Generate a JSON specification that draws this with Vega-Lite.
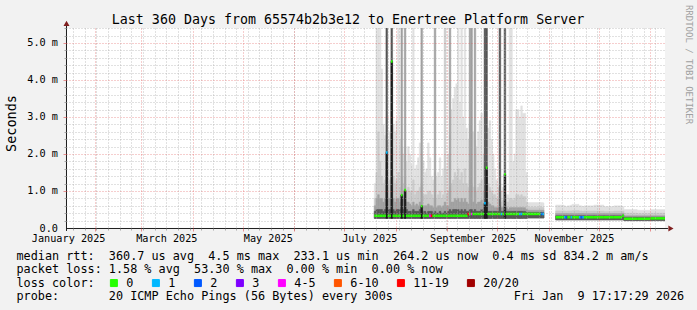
{
  "$schema": "https://vega.github.io/schema/vega-lite/v6.json",
  "width": 599,
  "height": 200,
  "autosize": {"type": "none"},
  "padding": {"left": 66, "top": 28, "right": 32, "bottom": 82},
  "background": "#f2f2f2",
  "config": {
    "view": {"fill": "#ffffff", "stroke": null},
    "font": "DejaVu Sans Mono",
    "axis": {"zindex": 1}
  },
  "title": {
    "text": "Last 360 Days from 65574b2b3e12 to Enertree Platform Server",
    "font": "DejaVu Sans Mono",
    "fontSize": 13.3,
    "fontWeight": "normal",
    "color": "#000000",
    "anchor": "middle",
    "frame": "group",
    "dx": -17.5,
    "baseline": "alphabetic",
    "offset": -32
  },
  "datasets": {
    "smoke": [
      {"t":"2025-07-19","t2":"2025-07-20","lo":0.26,"a":1.2,"b":0.8,"c":0.6,"d":0.45,"m":0.33,"l":"0"},
      {"t":"2025-07-20","t2":"2025-07-21","lo":0.26,"a":6,"b":1.5,"c":0.8,"d":0.5,"m":0.33,"l":"0"},
      {"t":"2025-07-21","t2":"2025-07-22","lo":0.26,"a":6,"b":2.6,"c":0.9,"d":0.5,"m":0.33,"l":"0"},
      {"t":"2025-07-22","t2":"2025-07-23","lo":0.26,"a":6,"b":1.8,"c":0.8,"d":0.5,"m":0.33,"l":"0"},
      {"t":"2025-07-23","t2":"2025-07-24","lo":0.26,"a":4.3,"b":1.4,"c":0.8,"d":0.5,"m":0.33,"l":"0"},
      {"t":"2025-07-24","t2":"2025-07-25","lo":0.26,"a":2.8,"b":1.2,"c":0.7,"d":0.45,"m":0.33,"l":"0"},
      {"t":"2025-07-25","t2":"2025-07-26","lo":0.26,"a":2.5,"b":1.3,"c":0.8,"d":0.5,"m":0.33,"l":"0"},
      {"t":"2025-07-26","t2":"2025-07-27","lo":0.26,"a":3.0,"b":1.5,"c":1.0,"d":6,"e":2.04,"m":2.04,"l":"1"},
      {"t":"2025-07-27","t2":"2025-07-28","lo":0.26,"a":2.4,"b":1.2,"c":0.8,"d":0.5,"m":0.33,"l":"0"},
      {"t":"2025-07-28","t2":"2025-07-29","lo":0.26,"a":2.6,"b":1.3,"c":0.8,"d":0.5,"m":0.33,"l":"0"},
      {"t":"2025-07-29","t2":"2025-07-30","lo":0.26,"a":3.2,"b":1.8,"c":1.2,"d":6,"e":4.5,"m":4.5,"l":"0"},
      {"t":"2025-07-30","t2":"2025-07-31","lo":0.26,"a":2.8,"b":1.4,"c":0.8,"d":0.5,"m":0.33,"l":"0"},
      {"t":"2025-07-31","t2":"2025-08-01","lo":0.26,"a":2.6,"b":1.2,"c":0.7,"d":0.45,"m":0.33,"l":"0"},
      {"t":"2025-08-01","t2":"2025-08-02","lo":0.26,"a":2.9,"b":1.3,"c":0.8,"d":0.5,"m":0.33,"l":"0"},
      {"t":"2025-08-02","t2":"2025-08-03","lo":0.26,"a":6,"b":1.5,"c":0.8,"d":0.5,"m":0.33,"l":"0"},
      {"t":"2025-08-03","t2":"2025-08-04","lo":0.26,"a":2.4,"b":1.1,"c":0.7,"d":0.5,"m":0.33,"l":"0"},
      {"t":"2025-08-04","t2":"2025-08-05","lo":0.26,"a":2.2,"b":1.4,"c":6,"d":0.9,"e":0.89,"m":0.89,"l":"0"},
      {"t":"2025-08-05","t2":"2025-08-06","lo":0.26,"a":2.0,"b":1.2,"c":0.8,"d":0.5,"m":0.33,"l":"0"},
      {"t":"2025-08-06","t2":"2025-08-07","lo":0.26,"a":2.2,"b":1.4,"c":6,"d":1.0,"e":1.03,"m":1.03,"l":"0"},
      {"t":"2025-08-07","t2":"2025-08-08","lo":0.26,"a":1.8,"b":1.0,"c":0.7,"d":0.5,"m":0.33,"l":"0"},
      {"t":"2025-08-08","t2":"2025-08-09","lo":0.26,"a":2.2,"b":1.1,"c":0.7,"d":0.45,"m":0.33,"l":"0"},
      {"t":"2025-08-09","t2":"2025-08-10","lo":0.26,"a":2.0,"b":1.0,"c":0.65,"d":0.45,"m":0.33,"l":"0"},
      {"t":"2025-08-10","t2":"2025-08-11","lo":0.26,"a":1.7,"b":1.0,"c":0.6,"d":0.45,"m":0.33,"l":"0"},
      {"t":"2025-08-11","t2":"2025-08-12","lo":0.26,"a":6,"b":1.3,"c":0.7,"d":0.5,"m":0.33,"l":"0"},
      {"t":"2025-08-12","t2":"2025-08-13","lo":0.26,"a":1.6,"b":0.9,"c":0.6,"d":0.45,"m":0.33,"l":"0"},
      {"t":"2025-08-13","t2":"2025-08-14","lo":0.26,"a":1.7,"b":1.0,"c":0.65,"d":0.45,"m":0.33,"l":"0"},
      {"t":"2025-08-14","t2":"2025-08-15","lo":0.26,"a":1.9,"b":1.0,"c":0.6,"d":0.45,"m":0.33,"l":"0"},
      {"t":"2025-08-15","t2":"2025-08-16","lo":0.26,"a":2.3,"b":1.1,"c":0.7,"d":0.5,"m":0.33,"l":"0"},
      {"t":"2025-08-16","t2":"2025-08-17","lo":0.26,"a":2.0,"b":1.2,"c":6,"d":0.6,"e":0.59,"m":0.59,"l":"0"},
      {"t":"2025-08-17","t2":"2025-08-18","lo":0.26,"a":1.8,"b":0.9,"c":0.6,"d":0.45,"m":0.33,"l":"0"},
      {"t":"2025-08-18","t2":"2025-08-19","lo":0.26,"a":1.5,"b":0.9,"c":0.6,"d":0.45,"m":0.33,"l":"0"},
      {"t":"2025-08-19","t2":"2025-08-20","lo":0.26,"a":1.6,"b":0.9,"c":0.6,"d":0.4,"m":0.33,"l":"0"},
      {"t":"2025-08-20","t2":"2025-08-21","lo":0.26,"a":2.3,"b":1.0,"c":0.65,"d":0.45,"m":0.33,"l":"0"},
      {"t":"2025-08-21","t2":"2025-08-22","lo":0.26,"a":1.9,"b":1.0,"c":0.6,"d":0.45,"m":0.33,"l":"4-5"},
      {"t":"2025-08-22","t2":"2025-08-23","lo":0.26,"a":1.4,"b":0.9,"c":0.6,"d":0.45,"m":0.33,"l":"11-19"},
      {"t":"2025-08-23","t2":"2025-08-24","lo":0.26,"a":1.3,"b":0.8,"c":0.55,"d":0.4,"m":0.33,"l":"0"},
      {"t":"2025-08-24","t2":"2025-08-25","lo":0.26,"a":1.5,"b":0.9,"c":6,"d":0.45,"m":0.33,"l":"0"},
      {"t":"2025-08-25","t2":"2025-08-26","lo":0.26,"a":1.4,"b":0.8,"c":0.55,"d":0.4,"m":0.33,"l":"0"},
      {"t":"2025-08-26","t2":"2025-08-27","lo":0.26,"a":1.5,"b":0.9,"c":0.6,"d":0.4,"m":0.33,"l":"0"},
      {"t":"2025-08-27","t2":"2025-08-28","lo":0.26,"a":1.9,"b":1.0,"c":0.6,"d":0.45,"m":0.33,"l":"0"},
      {"t":"2025-08-28","t2":"2025-08-29","lo":0.26,"a":1.4,"b":0.8,"c":0.55,"d":0.4,"m":0.33,"l":"0"},
      {"t":"2025-08-29","t2":"2025-08-30","lo":0.26,"a":1.6,"b":0.9,"c":0.6,"d":0.4,"m":0.33,"l":"0"},
      {"t":"2025-08-30","t2":"2025-08-31","lo":0.26,"a":2.0,"b":6,"c":0.7,"d":0.45,"m":0.33,"l":"0"},
      {"t":"2025-08-31","t2":"2025-09-01","lo":0.26,"a":1.6,"b":0.9,"c":0.6,"d":0.4,"m":0.33,"l":"0"},
      {"t":"2025-09-01","t2":"2025-09-02","lo":0.26,"a":2.0,"b":1.0,"c":0.6,"d":0.45,"m":0.33,"l":"0"},
      {"t":"2025-09-02","t2":"2025-09-03","lo":0.26,"a":2.5,"b":1.1,"c":6,"d":0.5,"m":0.33,"l":"0"},
      {"t":"2025-09-03","t2":"2025-09-04","lo":0.26,"a":3.2,"b":1.2,"c":0.7,"d":0.45,"m":0.33,"l":"0"},
      {"t":"2025-09-04","t2":"2025-09-05","lo":0.26,"a":3.5,"b":1.3,"c":0.7,"d":0.5,"m":0.33,"l":"0"},
      {"t":"2025-09-05","t2":"2025-09-06","lo":0.26,"a":3.8,"b":1.5,"c":0.8,"d":0.5,"m":0.33,"l":"0"},
      {"t":"2025-09-06","t2":"2025-09-07","lo":0.26,"a":3.9,"b":1.4,"c":0.75,"d":0.5,"m":0.33,"l":"0"},
      {"t":"2025-09-07","t2":"2025-09-08","lo":0.26,"a":6,"b":1.6,"c":0.8,"d":0.5,"m":0.33,"l":"0"},
      {"t":"2025-09-08","t2":"2025-09-09","lo":0.26,"a":3.4,"b":1.3,"c":0.7,"d":0.45,"m":0.33,"l":"0"},
      {"t":"2025-09-09","t2":"2025-09-10","lo":0.26,"a":6,"b":1.5,"c":0.8,"d":0.5,"m":0.33,"l":"0"},
      {"t":"2025-09-10","t2":"2025-09-11","lo":0.26,"a":3.0,"b":1.2,"c":0.7,"d":0.45,"m":0.33,"l":"0"},
      {"t":"2025-09-11","t2":"2025-09-12","lo":0.26,"a":6,"b":1.6,"c":0.8,"d":0.5,"m":0.33,"l":"0"},
      {"t":"2025-09-12","t2":"2025-09-13","lo":0.26,"a":2.7,"b":1.2,"c":0.7,"d":0.45,"m":0.33,"l":"0"},
      {"t":"2025-09-13","t2":"2025-09-14","lo":0.26,"a":2.4,"b":1.1,"c":0.65,"d":0.45,"m":0.38,"l":"11-19"},
      {"t":"2025-09-14","t2":"2025-09-15","lo":0.26,"a":2.8,"b":1.3,"c":6,"d":0.5,"m":0.38,"l":"0"},
      {"t":"2025-09-15","t2":"2025-09-16","lo":0.26,"a":2.6,"b":1.2,"c":6,"d":0.5,"m":0.38,"l":"4-5"},
      {"t":"2025-09-16","t2":"2025-09-17","lo":0.26,"a":2.6,"b":1.1,"c":0.7,"d":0.45,"m":0.38,"l":"0"},
      {"t":"2025-09-17","t2":"2025-09-18","lo":0.26,"a":2.4,"b":1.1,"c":6,"d":0.5,"m":0.38,"l":"0"},
      {"t":"2025-09-18","t2":"2025-09-19","lo":0.26,"a":2.2,"b":1.0,"c":0.65,"d":0.45,"m":0.38,"l":"0"},
      {"t":"2025-09-19","t2":"2025-09-20","lo":0.26,"a":2.6,"b":1.1,"c":0.7,"d":0.45,"m":0.38,"l":"0"},
      {"t":"2025-09-20","t2":"2025-09-21","lo":0.26,"a":2.9,"b":1.2,"c":0.7,"d":0.45,"m":0.38,"l":"0"},
      {"t":"2025-09-21","t2":"2025-09-22","lo":0.26,"a":3.1,"b":1.3,"c":0.75,"d":0.5,"m":0.38,"l":"0"},
      {"t":"2025-09-22","t2":"2025-09-23","lo":0.26,"a":2.0,"b":1.0,"c":0.65,"d":0.45,"m":0.38,"l":"0"},
      {"t":"2025-09-23","t2":"2025-09-24","lo":0.26,"a":2.4,"b":1.2,"c":0.8,"d":6,"e":0.67,"m":0.67,"l":"1"},
      {"t":"2025-09-24","t2":"2025-09-25","lo":0.26,"a":2.6,"b":1.3,"c":0.9,"d":6,"e":1.63,"m":1.63,"l":"0"},
      {"t":"2025-09-25","t2":"2025-09-26","lo":0.26,"a":2.7,"b":1.2,"c":0.7,"d":0.45,"m":0.38,"l":"0"},
      {"t":"2025-09-26","t2":"2025-09-27","lo":0.26,"a":2.9,"b":1.1,"c":0.65,"d":0.45,"m":0.38,"l":"0"},
      {"t":"2025-09-27","t2":"2025-09-28","lo":0.26,"a":2.4,"b":1.0,"c":0.6,"d":0.45,"m":0.38,"l":"0"},
      {"t":"2025-09-28","t2":"2025-09-29","lo":0.26,"a":2.0,"b":0.9,"c":0.6,"d":0.45,"m":0.38,"l":"0"},
      {"t":"2025-09-29","t2":"2025-09-30","lo":0.26,"a":1.6,"b":0.9,"c":0.55,"d":0.45,"m":0.38,"l":"0"},
      {"t":"2025-09-30","t2":"2025-10-01","lo":0.26,"a":1.3,"b":0.8,"c":0.55,"d":0.45,"m":0.38,"l":"0"},
      {"t":"2025-10-01","t2":"2025-10-02","lo":0.26,"a":1.1,"b":0.8,"c":0.55,"d":0.45,"m":0.38,"l":"0"},
      {"t":"2025-10-02","t2":"2025-10-03","lo":0.26,"a":1.2,"b":0.8,"c":0.6,"d":6,"m":0.38,"l":"0"},
      {"t":"2025-10-03","t2":"2025-10-04","lo":0.26,"a":1.0,"b":0.7,"c":0.55,"d":0.45,"m":0.38,"l":"1"},
      {"t":"2025-10-04","t2":"2025-10-05","lo":0.26,"a":1.1,"b":0.75,"c":0.55,"d":0.45,"m":0.38,"l":"0"},
      {"t":"2025-10-05","t2":"2025-10-06","lo":0.26,"a":1.2,"b":0.8,"c":0.6,"d":6,"e":1.45,"m":1.45,"l":"0"},
      {"t":"2025-10-06","t2":"2025-10-07","lo":0.26,"a":0.9,"b":0.7,"c":0.55,"d":0.45,"m":0.38,"l":"0"},
      {"t":"2025-10-07","t2":"2025-10-08","lo":0.26,"a":0.9,"b":0.7,"c":0.5,"d":0.45,"m":0.38,"l":"0"},
      {"t":"2025-10-08","t2":"2025-10-10","lo":0.26,"a":6,"b":0.8,"c":0.55,"d":0.45,"m":0.38,"l":"0"},
      {"t":"2025-10-10","t2":"2025-10-11","lo":0.26,"a":1.8,"b":0.75,"c":0.55,"d":0.45,"m":0.38,"l":"0"},
      {"t":"2025-10-11","t2":"2025-10-12","lo":0.26,"a":2.0,"b":0.8,"c":0.55,"d":0.45,"m":0.38,"l":"0"},
      {"t":"2025-10-12","t2":"2025-10-14","lo":0.26,"a":3.2,"b":0.9,"c":0.55,"d":0.45,"m":0.38,"l":"0"},
      {"t":"2025-10-14","t2":"2025-10-15","lo":0.26,"a":3.0,"b":0.85,"c":0.55,"d":0.45,"m":0.38,"l":"1"},
      {"t":"2025-10-15","t2":"2025-10-16","lo":0.26,"a":3.3,"b":0.9,"c":0.55,"d":0.45,"m":0.38,"l":"1"},
      {"t":"2025-10-16","t2":"2025-10-18","lo":0.26,"a":3.1,"b":0.85,"c":0.55,"d":0.45,"m":0.38,"l":"0"},
      {"t":"2025-10-18","t2":"2025-10-19","lo":0.26,"a":1.5,"b":0.7,"c":0.5,"d":0.42,"m":0.38,"l":"0"},
      {"t":"2025-10-19","t2":"2025-10-27","lo":0.27,"a":0.69,"b":0.56,"c":0.48,"d":0.42,"m":0.38,"l":"0"},
      {"t":"2025-10-27","t2":"2025-10-28","lo":0.27,"a":0.69,"b":0.56,"c":0.48,"d":0.42,"m":0.38,"l":"2"},
      {"t":"2025-10-28","t2":"2025-10-29","lo":0.27,"a":0.68,"b":0.55,"c":0.48,"d":0.42,"m":0.38,"l":"1"},
      {"t":"2025-11-05","t2":"2025-11-10","lo":0.22,"a":0.62,"b":0.46,"c":0.39,"d":0.33,"m":0.29,"l":"0"},
      {"t":"2025-11-10","t2":"2025-11-11","lo":0.22,"a":0.6,"b":0.46,"c":0.39,"d":0.33,"m":0.29,"l":"1"},
      {"t":"2025-11-11","t2":"2025-11-12","lo":0.22,"a":0.58,"b":0.45,"c":0.39,"d":0.33,"m":0.29,"l":"2"},
      {"t":"2025-11-12","t2":"2025-11-14","lo":0.22,"a":0.6,"b":0.46,"c":0.39,"d":0.33,"m":0.29,"l":"0"},
      {"t":"2025-11-14","t2":"2025-11-15","lo":0.22,"a":0.62,"b":0.46,"c":0.39,"d":0.33,"m":0.29,"l":"1"},
      {"t":"2025-11-15","t2":"2025-11-19","lo":0.22,"a":0.64,"b":0.47,"c":0.39,"d":0.33,"m":0.29,"l":"0"},
      {"t":"2025-11-19","t2":"2025-11-20","lo":0.22,"a":0.6,"b":0.46,"c":0.39,"d":0.33,"m":0.29,"l":"1"},
      {"t":"2025-11-20","t2":"2025-11-21","lo":0.22,"a":0.6,"b":0.46,"c":0.39,"d":0.33,"m":0.29,"l":"2"},
      {"t":"2025-11-21","t2":"2025-11-22","lo":0.22,"a":0.58,"b":0.45,"c":0.39,"d":0.33,"m":0.29,"l":"1"},
      {"t":"2025-11-22","t2":"2025-11-28","lo":0.22,"a":0.6,"b":0.46,"c":0.39,"d":0.33,"m":0.29,"l":"0"},
      {"t":"2025-11-28","t2":"2025-12-04","lo":0.22,"a":0.62,"b":0.46,"c":0.39,"d":0.33,"m":0.29,"l":"0"},
      {"t":"2025-12-04","t2":"2025-12-10","lo":0.22,"a":0.58,"b":0.45,"c":0.39,"d":0.33,"m":0.29,"l":"0"},
      {"t":"2025-12-10","t2":"2025-12-15","lo":0.22,"a":0.6,"b":0.46,"c":0.39,"d":0.33,"m":0.29,"l":"0"},
      {"t":"2025-12-15","t2":"2025-12-16","lo":0.22,"a":0.58,"b":0.46,"c":0.4,"d":0.35,"m":0.33,"l":"0"},
      {"t":"2025-12-16","t2":"2025-12-24","lo":0.2,"a":0.5,"b":0.4,"c":0.33,"d":0.29,"m":0.25,"l":"0"},
      {"t":"2025-12-24","t2":"2026-01-01","lo":0.2,"a":0.48,"b":0.39,"c":0.33,"d":0.29,"m":0.25,"l":"0"},
      {"t":"2026-01-01","t2":"2026-01-09T17:17:29Z","lo":0.2,"a":0.5,"b":0.4,"c":0.33,"d":0.29,"m":0.26,"l":"0"}
    ]
  },
  "resolve": {"axis": {"x": "independent", "y": "independent"}},
  "layer": [
    {
      "data": {"name": "smoke"},
      "mark": {"type": "rect", "fill": "#e0e0e0", "stroke": "#e0e0e0", "strokeWidth": 0.5, "clip": true},
      "encoding": {
        "x": {
          "field": "t", "type": "temporal",
          "scale": {"type": "utc", "nice": false, "domain": [{"year": 2025, "month": 1, "date": 14, "hours": 17, "minutes": 17, "seconds": 29, "utc": true}, {"year": 2026, "month": 1, "date": 9, "hours": 17, "minutes": 17, "seconds": 29, "utc": true}]},
          "axis": {"orient": "bottom", "tickCount": {"interval": "week", "step": 1}, "grid": true, "gridColor": "#a8a8a8", "gridOpacity": 0.7, "gridDash": [1, 2], "gridWidth": 1, "labels": false, "ticks": true, "tickSize": 2, "tickColor": "#8f8f8f", "tickOpacity": 0.75, "domain": false, "title": null, "zindex": 1}
        },
        "x2": {"field": "t2"},
        "y": {
          "field": "lo", "type": "quantitative",
          "scale": {"domain": [0, 5.4054], "nice": false, "zero": false},
          "axis": {"orient": "left", "values": [0.2, 0.4, 0.6, 0.8, 1.2, 1.4, 1.6, 1.8, 2.2, 2.4, 2.6, 2.8, 3.2, 3.4, 3.6, 3.8, 4.2, 4.4, 4.6, 4.8, 5.2, 5.4], "grid": true, "gridColor": "#a8a8a8", "gridOpacity": 0.7, "gridDash": [1, 2], "gridWidth": 1, "labels": false, "ticks": true, "tickSize": 2, "tickColor": "#8f8f8f", "tickOpacity": 0.75, "domain": false, "title": null, "zindex": 1}
        },
        "y2": {"field": "a"}
      }
    },
    {
      "data": {"name": "smoke"},
      "mark": {"type": "rect", "fill": "#cbcbcb", "stroke": "#cbcbcb", "strokeWidth": 0.5, "clip": true},
      "encoding": {
        "x": {
          "field": "t", "type": "temporal",
          "axis": {"orient": "bottom", "values": [{"year": 2025, "month": 2, "date": 1, "utc": true}, {"year": 2025, "month": 3, "date": 1, "utc": true}, {"year": 2025, "month": 4, "date": 1, "utc": true}, {"year": 2025, "month": 5, "date": 1, "utc": true}, {"year": 2025, "month": 6, "date": 1, "utc": true}, {"year": 2025, "month": 7, "date": 1, "utc": true}, {"year": 2025, "month": 8, "date": 1, "utc": true}, {"year": 2025, "month": 9, "date": 1, "utc": true}, {"year": 2025, "month": 10, "date": 1, "utc": true}, {"year": 2025, "month": 11, "date": 1, "utc": true}, {"year": 2025, "month": 12, "date": 1, "utc": true}, {"year": 2026, "month": 1, "date": 1, "utc": true}], "grid": true, "gridColor": "#e05a5a", "gridOpacity": 0.6, "gridDash": [1, 2], "gridWidth": 1, "labels": false, "ticks": true, "tickSize": 3, "tickColor": "#de4f4f", "tickOpacity": 0.6, "domain": false, "title": null, "zindex": 1}
        },
        "x2": {"field": "t2"},
        "y": {
          "field": "lo", "type": "quantitative",
          "axis": {"orient": "left", "values": [1, 2, 3, 4, 5], "grid": true, "gridColor": "#e05a5a", "gridOpacity": 0.6, "gridDash": [1, 2], "gridWidth": 1, "labels": false, "ticks": true, "tickSize": 3, "tickColor": "#de4f4f", "tickOpacity": 0.6, "domain": false, "title": null, "zindex": 1}
        },
        "y2": {"field": "b"}
      }
    },
    {
      "data": {"name": "smoke"},
      "mark": {"type": "rect", "fill": "#a0a0a0", "stroke": "#a0a0a0", "strokeWidth": 0.5, "clip": true},
      "encoding": {
        "x": {
          "field": "t", "type": "temporal",
          "axis": {
            "orient": "bottom",
            "values": [{"year": 2025, "month": 1, "date": 16, "utc": true}, {"year": 2025, "month": 3, "date": 16, "utc": true}, {"year": 2025, "month": 5, "date": 16, "utc": true}, {"year": 2025, "month": 7, "date": 16, "utc": true}, {"year": 2025, "month": 9, "date": 16, "utc": true}, {"year": 2025, "month": 11, "date": 16, "utc": true}],
            "format": "%B %Y",
            "grid": false, "ticks": false, "tickSize": 0, "domain": false,
            "labelFont": "DejaVu Sans Mono", "labelFontSize": 10.2, "labelColor": "#000000", "labelAlign": "center", "labelBaseline": "alphabetic", "labelPadding": 13, "labelOverlap": false, "labelFlush": false, "labelBound": false,
            "title": [
              "median\u00a0rtt:\u00a0\u00a0360.7\u00a0us\u00a0avg\u00a0\u00a04.5\u00a0ms\u00a0max\u00a0\u00a0233.1\u00a0us\u00a0min\u00a0\u00a0264.2\u00a0us\u00a0now\u00a0\u00a00.4\u00a0ms\u00a0sd\u00a0834.2\u00a0m\u00a0am/s",
              "packet\u00a0loss:\u00a01.58\u00a0%\u00a0avg\u00a0\u00a053.30\u00a0%\u00a0max\u00a0\u00a00.00\u00a0%\u00a0min\u00a0\u00a00.00\u00a0%\u00a0now",
              "loss\u00a0color:",
              "probe:\u00a0\u00a0\u00a0\u00a0\u00a0\u00a0\u00a020\u00a0ICMP\u00a0Echo\u00a0Pings\u00a0(56\u00a0Bytes)\u00a0every\u00a0300s\u00a0\u00a0\u00a0\u00a0\u00a0\u00a0\u00a0\u00a0\u00a0\u00a0\u00a0\u00a0\u00a0\u00a0\u00a0\u00a0\u00a0Fri\u00a0Jan\u00a0\u00a09\u00a017:17:29\u00a02026"
            ],
            "titleFont": "DejaVu Sans Mono", "titleFontSize": 11.8, "titleFontWeight": "normal", "titleColor": "#000000",
            "titleAnchor": "start", "titleAlign": "left", "titleBaseline": "alphabetic", "titleAngle": 0,
            "titleX": -50, "titleY": 31, "titleLineHeight": 13.6, "titleLimit": 2000, "zindex": 1
          }
        },
        "x2": {"field": "t2"},
        "y": {
          "field": "lo", "type": "quantitative",
          "axis": {
            "orient": "left",
            "values": [0, 1, 2, 3, 4, 5],
            "labelExpr": "datum.value == 0 ? '0.0\u00a0\u00a0' : format(datum.value, '.1f') + '\u00a0m'",
            "grid": false, "ticks": false, "tickSize": 0, "domain": false,
            "labelFont": "DejaVu Sans Mono", "labelFontSize": 10.2, "labelColor": "#000000", "labelAlign": "right", "labelBaseline": "middle", "labelPadding": 8.5, "labelOverlap": false, "labelFlush": false, "labelBound": false,
            "title": "Seconds", "titleFont": "DejaVu Sans Mono", "titleFontSize": 13.5, "titleFontWeight": "normal", "titleColor": "#000000",
            "titleAngle": 270, "titleX": -55, "titleY": 95, "titleAlign": "center", "titleBaseline": "middle", "zindex": 1
          }
        },
        "y2": {"field": "c"}
      }
    },
    {
      "data": {"name": "smoke"},
      "mark": {"type": "rect", "fill": "#555555", "stroke": "#555555", "strokeWidth": 0.5, "clip": true},
      "encoding": {
        "x": {"field": "t", "type": "temporal", "axis": null},
        "x2": {"field": "t2"},
        "y": {"field": "lo", "type": "quantitative", "axis": null},
        "y2": {"field": "d"}
      }
    },
    {
      "data": {"name": "smoke"},
      "transform": [{"filter": "isValid(datum.e)"}],
      "mark": {"type": "rect", "fill": "#1a1a1a", "stroke": "#1a1a1a", "strokeWidth": 0.5, "clip": true},
      "encoding": {
        "x": {"field": "t", "type": "temporal", "axis": null},
        "x2": {"field": "t2"},
        "y": {"field": "lo", "type": "quantitative", "axis": null},
        "y2": {"field": "e"}
      }
    },
    {
      "data": {"name": "smoke"},
      "mark": {"type": "rule", "strokeWidth": 2.5, "clip": true},
      "encoding": {
        "x": {"field": "t", "type": "temporal", "axis": null},
        "x2": {"field": "t2"},
        "y": {"field": "m", "type": "quantitative", "axis": null},
        "color": {
          "field": "l", "type": "nominal",
          "scale": {"domain": ["0", "1", "2", "3", "4-5", "6-10", "11-19", "20/20"], "range": ["#26ff00", "#00b8ff", "#0059ff", "#7e00ff", "#ff00ff", "#ff5500", "#ff0000", "#a10000"]},
          "legend": {
            "orient": "none", "legendX": 42, "legendY": 249, "direction": "horizontal", "columns": 8, "title": null,
            "symbolType": "square", "symbolSize": 49, "symbolStrokeWidth": 1, "symbolStrokeColor": "#000000", "symbolOpacity": 1,
            "labelFont": "DejaVu Sans Mono", "labelFontSize": 11.8, "labelColor": "#000000", "labelOffset": 6.5, "labelLimit": 200,
            "columnPadding": 16, "padding": 0,
            "encode": {"symbols": {"update": {"fill": {"scale": "color", "field": "value"}, "stroke": {"value": "#000000"}, "strokeWidth": {"value": 1}, "strokeOpacity": {"value": 1}, "opacity": {"value": 1}}}}
          }
        }
      }
    },
    {
      "data": {"values": [{}]},
      "mark": {"type": "rule", "color": "#1f1f1f", "strokeWidth": 1, "clip": false},
      "encoding": {
        "x": {"datum": {"year": 2025, "month": 1, "date": 14, "hours": 17, "minutes": 17, "seconds": 29, "utc": true}, "type": "temporal", "axis": null},
        "x2": {"datum": {"year": 2026, "month": 1, "date": 11, "hours": 12, "utc": true}},
        "y": {"datum": -0.0135, "type": "quantitative", "axis": null}
      }
    },
    {
      "data": {"values": [{}]},
      "mark": {"type": "rule", "color": "#1f1f1f", "strokeWidth": 1, "clip": false},
      "encoding": {
        "x": {"datum": {"year": 2025, "month": 1, "date": 15, "hours": 0, "minutes": 30, "utc": true}, "type": "temporal", "axis": null},
        "y": {"datum": -0.08, "type": "quantitative", "axis": null},
        "y2": {"datum": 5.49}
      }
    },
    {
      "data": {"values": [{}]},
      "mark": {"type": "point", "shape": "triangle-right", "filled": true, "fill": "#801f1f", "size": 36, "opacity": 1, "strokeWidth": 0, "clip": false},
      "encoding": {
        "x": {"datum": {"year": 2026, "month": 1, "date": 13, "hours": 7, "utc": true}, "type": "temporal", "axis": null},
        "y": {"datum": -0.0135, "type": "quantitative", "axis": null}
      }
    },
    {
      "data": {"values": [{}]},
      "mark": {"type": "point", "shape": "triangle-up", "filled": true, "fill": "#801f1f", "size": 36, "opacity": 1, "strokeWidth": 0, "clip": false},
      "encoding": {
        "x": {"datum": {"year": 2025, "month": 1, "date": 15, "hours": 0, "minutes": 30, "utc": true}, "type": "temporal", "axis": null},
        "y": {"datum": 5.53, "type": "quantitative", "axis": null}
      }
    },
    {
      "data": {"values": [{}]},
      "mark": {"type": "text", "text": "RRDTOOL / TOBI OETIKER", "angle": 90, "align": "left", "baseline": "middle", "font": "DejaVu Sans Mono", "fontSize": 9, "color": "#a0a0a0", "clip": false},
      "encoding": {
        "x": {"datum": {"year": 2026, "month": 1, "date": 24, "hours": 3, "utc": true}, "type": "temporal", "axis": null},
        "y": {"datum": 6.03, "type": "quantitative", "axis": null}
      }
    }
  ]
}
